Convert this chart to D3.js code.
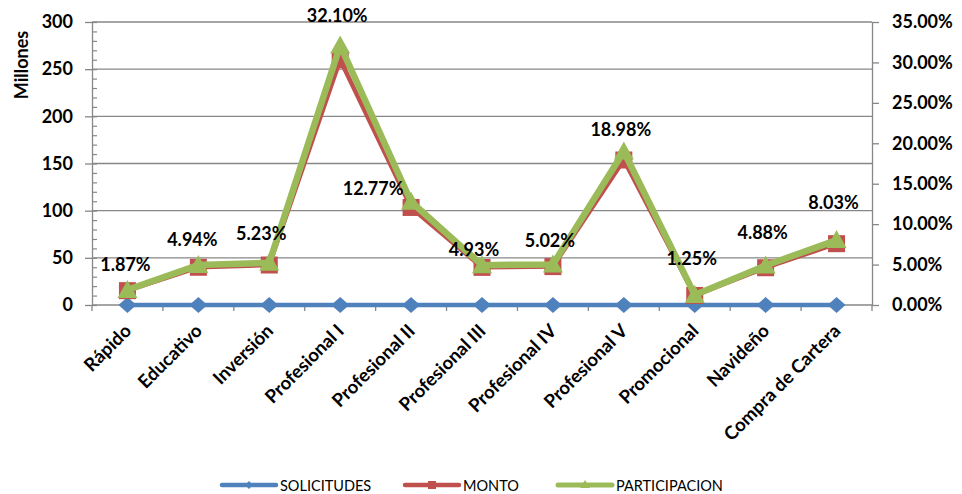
<!DOCTYPE html>
<html>
<head>
<meta charset="utf-8">
<script src="https://cdn.jsdelivr.net/npm/d3@7"></script>
<style>
  html, body { margin: 0; padding: 0; background: #fff; }
  svg { display: block; font-family: Lato, "Liberation Sans", sans-serif; }
</style>
</head>
<body>
<svg id="chart" width="962" height="494"></svg>
<script>
// ---- data ----
const categories = ["Rápido", "Educativo", "Inversión", "Profesional I", "Profesional II",
  "Profesional III", "Profesional IV", "Profesional V", "Promocional", "Navideño", "Compra de Cartera"];
const solicitudes = [0, 0, 0, 0, 0, 0, 0, 0, 0, 0, 0];
const monto = [15.2, 40.0, 42.4, 260.0, 103.4, 39.9, 40.7, 153.7, 10.1, 39.5, 65.0];
const participacion = [0.0187, 0.0494, 0.0523, 0.3210, 0.1277, 0.0493, 0.0502, 0.1898, 0.0125, 0.0488, 0.0803];
const leftTicks = [0, 50, 100, 150, 200, 250, 300];
const rightTicks = [0, 0.05, 0.10, 0.15, 0.20, 0.25, 0.30, 0.35];
const seriesNames = ["SOLICITUDES", "MONTO", "PARTICIPACION"];

// ---- layout (not data) ----
const labelOffsets = [[-2,-26],[-6,-26],[-8,-30],[-3,-30],[-38,-14],[-8,-16],[-3,-24],[-3,-23],[-3,-37],[-3,-34],[-3,-38]];
const colors = { SOLICITUDES: "#4F81BD", MONTO: "#C0504D", PARTICIPACION: "#9BBB59" };
const gridColor = "#878787";
const L = 92, R = 872, T = 22, B = 305;

const svg = d3.select("#chart");

const x = d3.scaleBand().domain(categories).range([L, R]);
const cx = d => x(d) + x.bandwidth() / 2;
const yL = d3.scaleLinear().domain([0, 300]).range([B, T]);
const yR = d3.scaleLinear().domain([0, 0.35]).range([B, T]);

// gridlines
svg.append("g").selectAll("line").data(leftTicks.filter(v => v > 0)).join("line")
  .attr("x1", L).attr("x2", R)
  .attr("y1", d => yL(d)).attr("y2", d => yL(d))
  .attr("stroke", gridColor).attr("stroke-width", 1.3);

// left minor ticks (inside)
svg.append("g").attr("transform", `translate(${L},0)`)
  .call(d3.axisRight(yL).tickValues(d3.range(0, 301, 10)).tickSize(5).tickFormat(""))
  .call(g => g.select(".domain").remove())
  .call(g => g.selectAll("line").attr("stroke", gridColor).attr("stroke-width", 1.2));

// left axis
svg.append("g").attr("transform", `translate(${L},0)`)
  .call(d3.axisLeft(yL).tickValues(leftTicks).tickSize(7).tickSizeOuter(0).tickPadding(12))
  .call(g => g.select(".domain").attr("stroke", gridColor).attr("stroke-width", 1.3))
  .call(g => g.selectAll(".tick line").attr("stroke", gridColor).attr("stroke-width", 1.3))
  .call(g => g.selectAll("text").attr("fill", "#000").attr("font-size", 18)
    .attr("font-weight", "bold").attr("font-family", "Lato, sans-serif"));

// right axis
svg.append("g").attr("transform", `translate(${R},0)`)
  .call(d3.axisRight(yR).tickValues(rightTicks).tickSize(7).tickSizeOuter(0).tickPadding(13)
    .tickFormat(d3.format(".2%")))
  .call(g => g.select(".domain").attr("stroke", gridColor).attr("stroke-width", 1.3))
  .call(g => g.selectAll(".tick line").attr("stroke", gridColor).attr("stroke-width", 1.3))
  .call(g => g.selectAll("text").attr("fill", "#000").attr("font-size", 18)
    .attr("font-weight", "bold").attr("font-family", "Lato, sans-serif"));

// x axis line & ticks between categories
const boundaries = categories.map(c => x(c)).concat([R]);
svg.append("line").attr("x1", L).attr("x2", R).attr("y1", B).attr("y2", B)
  .attr("stroke", gridColor).attr("stroke-width", 1.3);
svg.append("g").selectAll("line").data(boundaries).join("line")
  .attr("x1", d => d).attr("x2", d => d).attr("y1", B).attr("y2", B + 6)
  .attr("stroke", gridColor).attr("stroke-width", 1.3);

// x labels
svg.append("g").selectAll("text").data(categories).join("text")
  .attr("transform", d => `translate(${cx(d) + 5},${B + 27}) rotate(-45)`)
  .attr("text-anchor", "end")
  .attr("font-size", 18.5).attr("font-weight", "bold").attr("fill", "#000")
  .text(d => d);

// y title
svg.append("text")
  .attr("transform", `translate(21,${65}) rotate(-90)`)
  .attr("text-anchor", "middle").attr("dominant-baseline", "central")
  .attr("font-size", 18).attr("font-weight", "bold").attr("fill", "#000")
  .text("Millones");

// series
const lineL = d3.line().x((d, i) => cx(categories[i])).y(d => yL(d));
const lineR = d3.line().x((d, i) => cx(categories[i])).y(d => yR(d));

// SOLICITUDES
svg.append("path").datum(solicitudes).attr("d", lineL)
  .attr("fill", "none").attr("stroke", colors.SOLICITUDES).attr("stroke-width", 4.5)
  .attr("stroke-linejoin", "round");
svg.append("g").selectAll("path").data(solicitudes).join("path")
  .attr("d", "M0,-8 L9,0 L0,8 L-9,0 Z")
  .attr("transform", (d, i) => `translate(${cx(categories[i])},${yL(d)})`)
  .attr("fill", colors.SOLICITUDES);

// MONTO
svg.append("path").datum(monto).attr("d", lineL)
  .attr("fill", "none").attr("stroke", colors.MONTO).attr("stroke-width", 4.5)
  .attr("stroke-linejoin", "round");
svg.append("g").selectAll("rect").data(monto).join("rect")
  .attr("x", (d, i) => cx(categories[i]) - 8.5).attr("y", d => yL(d) - 8.5)
  .attr("width", 17).attr("height", 17)
  .attr("fill", colors.MONTO);

// PARTICIPACION
svg.append("path").datum(participacion).attr("d", lineR)
  .attr("fill", "none").attr("stroke", colors.PARTICIPACION).attr("stroke-width", 6.5)
  .attr("stroke-linejoin", "round");
svg.append("g").selectAll("path").data(participacion).join("path")
  .attr("d", "M0,-10 L10,8 L-10,8 Z")
  .attr("transform", (d, i) => `translate(${cx(categories[i])},${yR(d)})`)
  .attr("fill", colors.PARTICIPACION);

// data labels
svg.append("g").selectAll("text").data(participacion).join("text")
  .attr("x", (d, i) => cx(categories[i]) + labelOffsets[i][0])
  .attr("y", (d, i) => yR(d) + labelOffsets[i][1])
  .attr("text-anchor", "middle").attr("dominant-baseline", "central")
  .attr("font-size", 18).attr("font-weight", "bold").attr("fill", "#000")
  .text(d => d3.format(".2%")(d));

// legend
const legendX = [222, 405, 558];
const legendY = 485;
const lg = svg.append("g");
seriesNames.forEach((name, i) => {
  const g = lg.append("g").attr("transform", `translate(${legendX[i]},${legendY})`);
  g.append("line").attr("x1", 0).attr("x2", 54).attr("y1", 0).attr("y2", 0)
    .attr("stroke", colors[name]).attr("stroke-width", name === "PARTICIPACION" ? 5 : 4.5)
    .attr("stroke-linecap", "round");
  if (name === "SOLICITUDES") g.append("path").attr("d", "M27,-4 L31,0 L27,4 L23,0 Z").attr("fill", colors[name]);
  if (name === "MONTO") g.append("rect").attr("x", 23).attr("y", -4).attr("width", 8).attr("height", 8).attr("fill", colors[name]);
  if (name === "PARTICIPACION") g.append("path").attr("d", "M27,-5 L32,3 L22,3 Z").attr("fill", colors[name]);
  g.append("text").attr("x", 58).attr("y", 0).attr("dominant-baseline", "central")
    .attr("font-size", 14.5).attr("fill", "#000").text(name);
});
</script>
</body>
</html>
